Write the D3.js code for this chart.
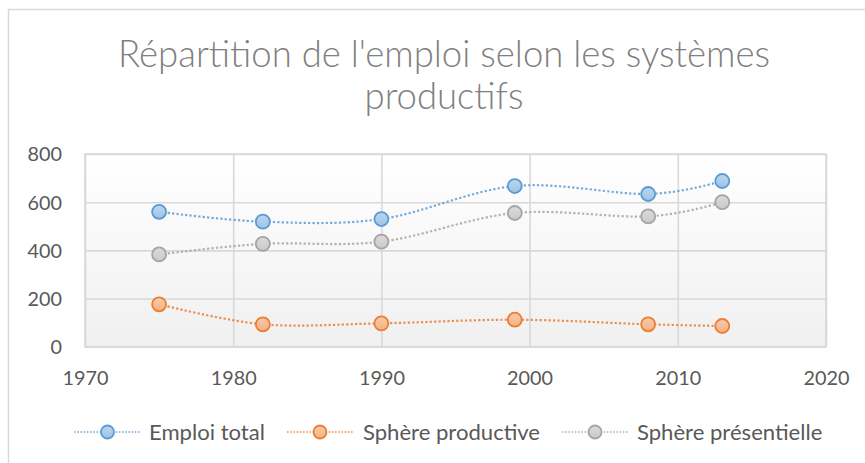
<!DOCTYPE html>
<html>
<head>
<meta charset="utf-8">
<script src="https://cdn.jsdelivr.net/npm/d3@7"></script>
<style>
  html, body { margin: 0; padding: 0; background: #fff; }
  svg { display: block; }
  text { font-family: Lato, "Open Sans", sans-serif; }
</style>
</head>
<body>
<svg id="chart" width="865" height="463"></svg>
<script>
// ---- data ----
const years = [1975, 1982, 1990, 1999, 2008, 2013];
const emploiTotal = [560, 519, 530, 667, 634, 688];
const sphereProductive = [176, 93, 97, 112, 93, 86];
const spherePresentielle = [383, 427, 436, 555, 541, 600];
const seriesNames = ["Emploi total", "Sphère productive", "Sphère présentielle"];
const xTickValues = [1970, 1980, 1990, 2000, 2010, 2020];
const yTickValues = [0, 200, 400, 600, 800];
const titleLines = ["Répartition de l'emploi selon les systèmes", "productifs"];

// ---- styles ----
const lineColors = ["#5b9bd5", "#ed7d31", "#a5a5a5"];
const fillColors = ["#9dc3e6", "#f4b183", "#c9c9c9"];
const fillColorsTop = ["#bdd7ee", "#f8cbad", "#dbdbdb"];
const seriesData = [emploiTotal, sphereProductive, spherePresentielle];

const svg = d3.select("#chart");
const W = 865, H = 463;
const plot = { left: 85, right: 826, top: 154, bottom: 346.7 };

const defs = svg.append("defs");
const bg = defs.append("linearGradient").attr("id", "plotbg")
  .attr("x1", 0).attr("y1", 0).attr("x2", 0).attr("y2", 1);
bg.append("stop").attr("offset", "0%").attr("stop-color", "#ffffff");
bg.append("stop").attr("offset", "100%").attr("stop-color", "#f0f0f0");
fillColors.forEach((c, i) => {
  const g = defs.append("linearGradient").attr("id", "mk" + i)
    .attr("x1", 0).attr("y1", 0).attr("x2", 0).attr("y2", 1);
  g.append("stop").attr("offset", "0%").attr("stop-color", fillColorsTop[i]);
  g.append("stop").attr("offset", "100%").attr("stop-color", c);
});

// chart border
svg.append("rect").attr("x", 8.5).attr("y", 9.5).attr("width", W).attr("height", H)
  .attr("fill", "#fff").attr("stroke", "#d9d9d9").attr("stroke-width", 1.5);

// fit helper
function fitSize(text, targetWidth, weight) {
  const t = svg.append("text").attr("font-size", 100).attr("font-weight", weight || 400).text(text);
  const w = t.node().getComputedTextLength();
  t.remove();
  return 100 * targetWidth / w;
}

// title
const titleSize = fitSize(titleLines[0], 652, 300);
svg.append("g").selectAll("text").data(titleLines).join("text")
  .attr("x", 444)
  .attr("y", (d, i) => 67 + i * 42)
  .attr("text-anchor", "middle")
  .attr("font-size", titleSize)
  .attr("font-weight", 300)
  .attr("fill", "#808080")
  .text(d => d);

// scales
const x = d3.scaleLinear().domain([1970, 2020]).range([plot.left, plot.right]);
const y = d3.scaleLinear().domain([0, 800]).range([plot.bottom, plot.top]);

// plot background
svg.append("rect").attr("x", plot.left).attr("y", plot.top)
  .attr("width", plot.right - plot.left).attr("height", plot.bottom - plot.top)
  .attr("fill", "url(#plotbg)");

// gridlines
const gx = svg.append("g").attr("transform", `translate(0,${plot.bottom})`)
  .call(d3.axisBottom(x).tickValues(xTickValues).tickSize(-(plot.bottom - plot.top)).tickFormat(""));
const gy = svg.append("g").attr("transform", `translate(${plot.left},0)`)
  .call(d3.axisLeft(y).tickValues(yTickValues).tickSize(-(plot.right - plot.left)).tickFormat(""));
[gx, gy].forEach(g => {
  g.select(".domain").remove();
  g.selectAll(".tick line").attr("stroke", "#d9d9d9").attr("stroke-width", 1.6);
});
svg.append("rect").attr("x", plot.left).attr("y", plot.top)
  .attr("width", plot.right - plot.left).attr("height", plot.bottom - plot.top)
  .attr("fill", "none").attr("stroke", "#d9d9d9").attr("stroke-width", 1.6);

// axis labels
const tickSize = fitSize("1970", 46);
const ax = svg.append("g").attr("transform", `translate(0,${plot.bottom})`)
  .call(d3.axisBottom(x).tickValues(xTickValues).tickSize(0).tickPadding(0).tickFormat(d3.format("d")));
ax.select(".domain").remove();
ax.selectAll("text").attr("y", 38).attr("dy", 0).attr("font-size", tickSize)
  .attr("fill", "#595959").attr("font-family", "Lato, 'Open Sans', sans-serif");
const ay = svg.append("g").attr("transform", `translate(62,0)`)
  .call(d3.axisLeft(y).tickValues(yTickValues).tickSize(0).tickPadding(0).tickFormat(d3.format("d")));
ay.select(".domain").remove();
ay.selectAll("text").attr("x", 0).attr("dy", "0.35em").attr("font-size", tickSize)
  .attr("fill", "#595959").attr("font-family", "Lato, 'Open Sans', sans-serif");

// lines
const line = d3.line().x(d => x(d[0])).y(d => y(d[1])).curve(d3.curveCardinal.tension(0));
const series = seriesData.map((vals, i) => ({ i, pts: years.map((yr, j) => [yr, vals[j]]) }));
svg.append("g").selectAll("path").data(series).join("path")
  .attr("d", d => line(d.pts))
  .attr("fill", "none")
  .attr("stroke", d => lineColors[d.i])
  .attr("stroke-width", 2.2)
  .attr("stroke-dasharray", "2.2,2.2")
  .attr("opacity", 0.85);

const mg = svg.append("g");
series.forEach(s => {
  mg.append("g").selectAll("circle").data(s.pts).join("circle")
    .attr("cx", d => x(d[0])).attr("cy", d => y(d[1])).attr("r", 7)
    .attr("fill", `url(#mk${s.i})`)
    .attr("stroke", lineColors[s.i]).attr("stroke-width", 1.8);
});

// legend
const legendSize = fitSize("Emploi total", 116);
const legendItems = [
  { x0: 74, x1: 140, mx: 107.5, tx: 149 },
  { x0: 287, x1: 353, mx: 320, tx: 363 },
  { x0: 562, x1: 628, mx: 595, tx: 637 }
];
const ly = 432;
const lg = svg.append("g").selectAll("g").data(seriesNames).join("g");
lg.append("line")
  .attr("x1", (d, i) => legendItems[i].x0).attr("x2", (d, i) => legendItems[i].x1)
  .attr("y1", ly).attr("y2", ly)
  .attr("stroke", (d, i) => lineColors[i]).attr("stroke-width", 1.5)
  .attr("stroke-dasharray", "1.6,1.6").attr("opacity", 0.85);
lg.append("circle")
  .attr("cx", (d, i) => legendItems[i].mx).attr("cy", ly).attr("r", 6.5)
  .attr("fill", (d, i) => `url(#mk${i})`)
  .attr("stroke", (d, i) => lineColors[i]).attr("stroke-width", 1.8);
lg.append("text")
  .attr("x", (d, i) => legendItems[i].tx).attr("y", ly).attr("dy", "0.35em")
  .attr("font-size", legendSize).attr("fill", "#595959")
  .text(d => d);
</script>
</body>
</html>
